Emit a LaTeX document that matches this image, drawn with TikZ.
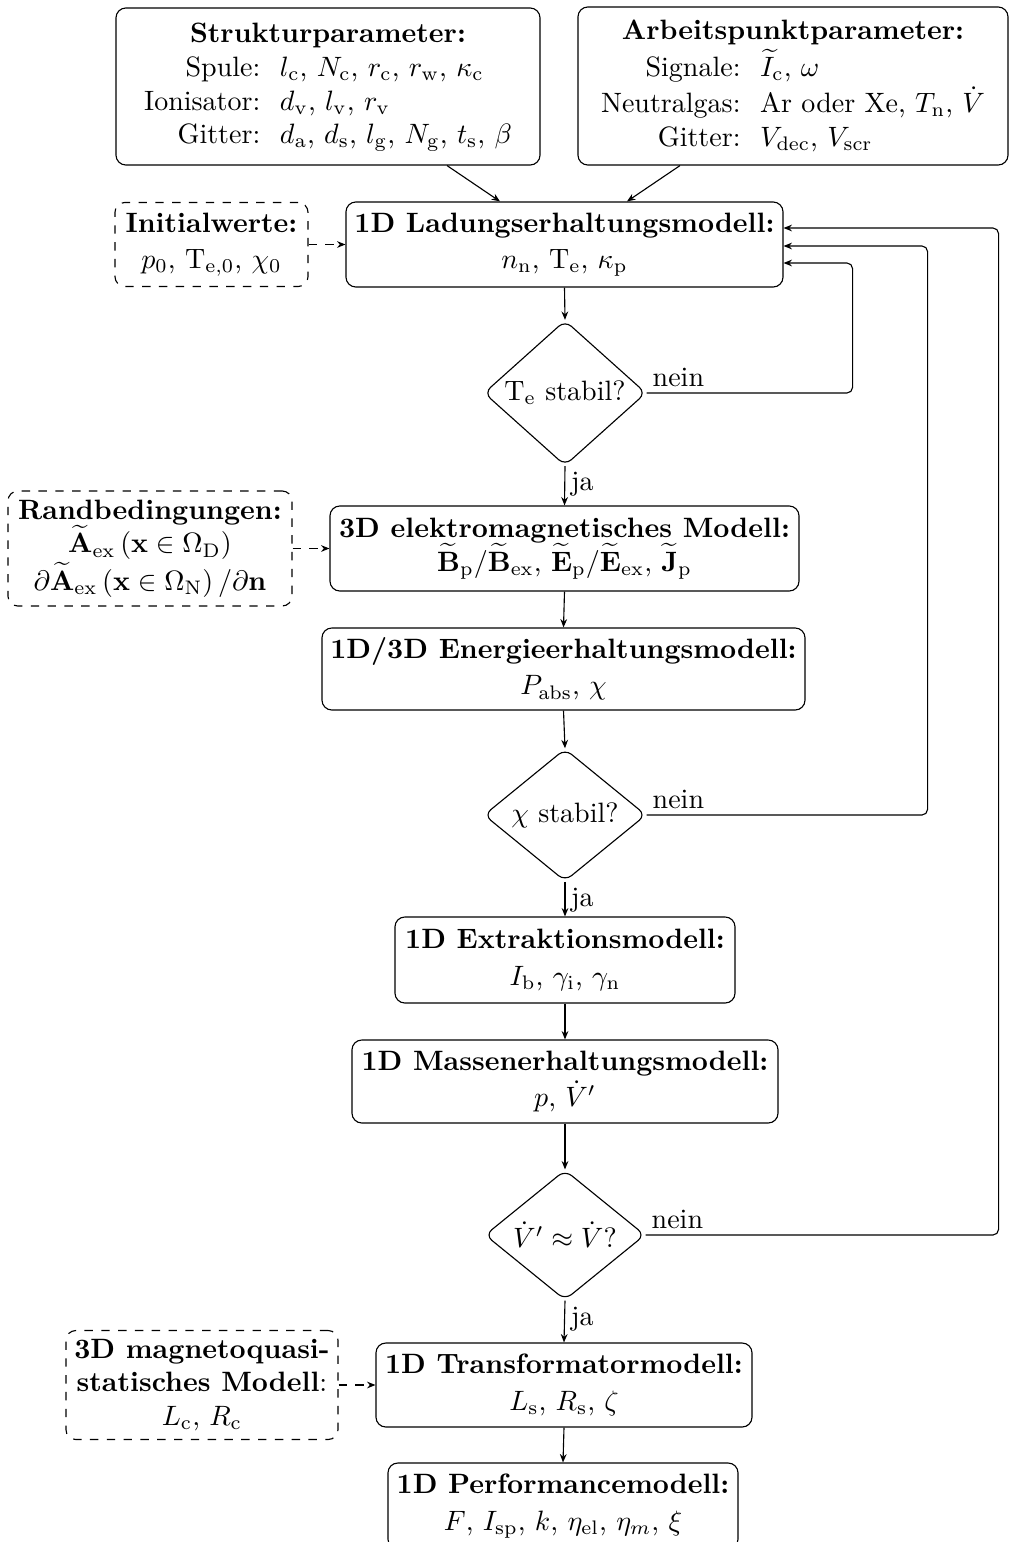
\documentclass[tikz,border=0pt]{standalone}
\usepackage{amsmath,amssymb}
\usetikzlibrary{shapes.geometric,arrows.meta,calc}
\begin{document}
\begin{tikzpicture}[x=0.357pt,y=-0.357pt,
 mbox/.style n args={2}{draw, rounded corners=3.5pt, minimum width=#1*0.357pt, minimum height=#2*0.357pt, align=center, inner sep=1pt},
 dbox/.style n args={2}{mbox={#1}{#2}, dashed},
 dec/.style n args={2}{draw, diamond, rounded corners=3pt, minimum width=#1*0.357pt, minimum height=#2*0.357pt, inner sep=0pt, align=center},
 arr/.style={-{Stealth[length=3pt,width=2.4pt]}},
 darr/.style={arr, dashed},
 fb/.style={arr, rounded corners=2pt},
 lab/.style={inner sep=2pt}]
\useasboundingbox (0,0) rectangle (1010,1542);

\node[mbox={424}{157}] (struk) at (328,86.5) {%
\begin{tabular}{@{}r@{\hspace{7pt}}l@{}}
\multicolumn{2}{@{}c@{}}{\textbf{Strukturparameter:}}\\
Spule: & $l_\mathrm{c}$, $N_\mathrm{c}$, $r_\mathrm{c}$, $r_\mathrm{w}$, $\kappa_\mathrm{c}$\\
Ionisator: & $d_\mathrm{v}$, $l_\mathrm{v}$, $r_\mathrm{v}$\\
Gitter: & $d_\mathrm{a}$, $d_\mathrm{s}$, $l_\mathrm{g}$, $N_\mathrm{g}$, $t_\mathrm{s}$, $\beta$
\end{tabular}};

\node[mbox={430}{158}] (arbeit) at (793,86) {%
\begin{tabular}{@{}r@{\hspace{7pt}}l@{}}
\multicolumn{2}{@{}c@{}}{\textbf{Arbeitspunktparameter:}}\\
Signale: & $\widetilde{I}_\mathrm{c}$, $\omega$\\
Neutralgas: & Ar oder Xe, $T_\mathrm{n}$, $\dot{V}$\\
Gitter: & $V_\mathrm{dec}$, $V_\mathrm{scr}$
\end{tabular}};

\node[mbox={437}{85}] (ladung) at (564.5,244.5) {\textbf{1D Ladungserhaltungsmodell:}\\[1pt] $n_\mathrm{n}$, T$_\mathrm{e}$, $\kappa_\mathrm{p}$};
\node[dbox={193}{84}] (init) at (211.5,244.5) {\textbf{Initialwerte:}\\[1pt] $p_0$, T$_{\mathrm{e},0}$, $\chi_0$};

\node[dec={162}{133}] (d1) at (565,393) {T$_\mathrm{e}$ stabil?};

\node[mbox={469}{85}] (em3d) at (564.5,548.5) {\textbf{3D elektromagnetisches Modell:}\\ $\widetilde{\mathbf{B}}_\mathrm{p}/\widetilde{\mathbf{B}}_\mathrm{ex}$, $\widetilde{\mathbf{E}}_\mathrm{p}/\widetilde{\mathbf{E}}_\mathrm{ex}$, $\widetilde{\mathbf{J}}_\mathrm{p}$};
\node[dbox={284}{115}] (rand) at (150,548.5) {\textbf{Randbedingungen:}\\ $\widetilde{\mathbf{A}}_\mathrm{ex}\left(\mathbf{x}\in\Omega_\mathrm{D}\right)$\\ $\partial\widetilde{\mathbf{A}}_\mathrm{ex}\left(\mathbf{x}\in\Omega_\mathrm{N}\right)/\partial\mathbf{n}$};

\node[mbox={483}{82}] (energie) at (563.5,669) {\textbf{1D/3D Energieerhaltungsmodell:}\\[1pt] $P_\mathrm{abs}$, $\chi$};

\node[dec={162}{130}] (d2) at (565,815) {$\chi$ stabil?};

\node[mbox={340}{86}] (extr) at (565,960) {\textbf{1D Extraktionsmodell:}\\[1pt] $I_\mathrm{b}$, $\gamma_\mathrm{i}$, $\gamma_\mathrm{n}$};
\node[mbox={426}{83}] (massen) at (565,1081.5) {\textbf{1D Massenerhaltungsmodell:}\\[1pt] $p$, $\dot{V}'$};

\node[dec={160}{130}] (d3) at (565,1235) {$\dot{V}'\approx\dot{V}$?};

\node[mbox={376}{84}] (trafo) at (564,1385) {\textbf{1D Transformatormodell:}\\[1pt] $L_\mathrm{s}$, $R_\mathrm{s}$, $\zeta$};
\node[dbox={272}{109}] (mqs) at (202,1385) {\textbf{3D magnetoquasi-}\\ \textbf{statisches Modell}:\\ $L_\mathrm{c}$, $R_\mathrm{c}$};

\node[mbox={350}{86}] (perf) at (563,1506) {\textbf{1D Performancemodell:}\\[1pt] $F$, $I_\mathrm{sp}$, $k$, $\eta_\mathrm{el}$, $\eta_m$, $\xi$};

% connectors
\draw[arr] ($(struk.south)+(119,0)$) -- ($(ladung.north)+(-64.5,0)$);
\draw[arr] ($(arbeit.south)+(-113,0)$) -- ($(ladung.north)+(62.5,0)$);
\draw[darr] (init.east) -- (ladung.west);
\draw[arr] (ladung.south) -- (d1.north);
\draw[arr] (d1.south) node[lab, anchor=north west] {ja} -- (em3d.north);
\draw[fb] (d1.east) node[lab, anchor=south west] {nein} -| ($(ladung.east)+(69,18.5)$) -- ($(ladung.east)+(0,18.5)$);
\draw[darr] (rand.east) -- (em3d.west);
\draw[arr] (em3d.south) -- (energie.north);
\draw[arr] (energie.south) -- (d2.north);
\draw[fb] (d2.east) node[lab, anchor=south west] {nein} -| ($(ladung.east)+(144,1.5)$) -- ($(ladung.east)+(0,1.5)$);
\draw[arr] (d2.south) node[lab, anchor=north west] {ja} -- (extr.north);
\draw[arr] (extr.south) -- (massen.north);
\draw[arr] (massen.south) -- (d3.north);
\draw[fb] (d3.east) node[lab, anchor=south west] {nein} -| ($(ladung.east)+(215,-16.5)$) -- ($(ladung.east)+(0,-16.5)$);
\draw[arr] (d3.south) node[lab, anchor=north west] {ja} -- (trafo.north);
\draw[darr] (mqs.east) -- (trafo.west);
\draw[arr] (trafo.south) -- (perf.north);
\end{tikzpicture}
\end{document}
